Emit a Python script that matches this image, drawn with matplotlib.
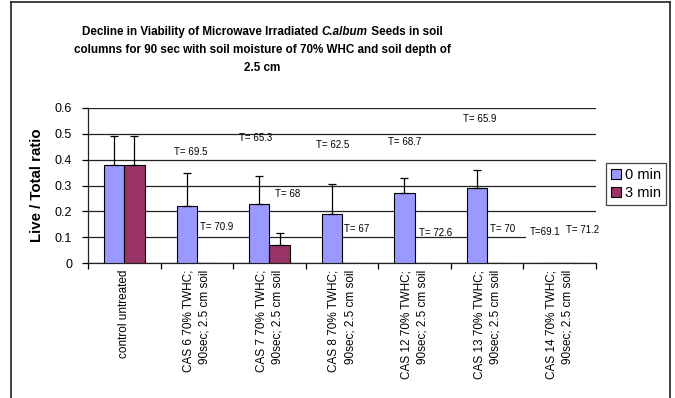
import numpy as np
import matplotlib
matplotlib.use("Agg")
import matplotlib.pyplot as plt
from matplotlib.lines import Line2D
from matplotlib.patches import Patch

plt.rcParams['font.family'] = ['Liberation Sans', 'DejaVu Sans']

categories = ["control untreated",
              "CAS 6 70% TWHC;\n90sec; 2.5 cm soil",
              "CAS 7 70% TWHC;\n90sec; 2.5 cm soil",
              "CAS 8 70% TWHC;\n90sec; 2.5 cm soil",
              "CAS 12 70% TWHC;\n90sec; 2.5 cm soil",
              "CAS 13 70% TWHC;\n90sec; 2.5 cm soil",
              "CAS 14 70% TWHC;\n90sec; 2.5 cm soil"]
series_names = ["0 min", "3 min"]
vals_0min = [0.38, 0.22, 0.23, 0.19, 0.27, 0.29, 0.0]
vals_3min = [0.38, 0.0, 0.07, 0.0, 0.0, 0.0, 0.0]
err_0min = [0.11, 0.13, 0.105, 0.115, 0.058, 0.069, 0.0]
err_3min = [0.11, 0.0, 0.047, 0.0, 0.0, 0.0, 0.0]
t_labels = ["T= 69.5", "T= 70.9", "T= 65.3", "T= 68", "T= 62.5", "T= 67",
            "T= 68.7", "T= 72.6", "T= 65.9", "T= 70", "T=69.1", "T= 71.2"]
yticks = [0, 0.1, 0.2, 0.3, 0.4, 0.5, 0.6]
ytick_labels = ["0", "0.1", "0.2", "0.3", "0.4", "0.5", "0.6"]

# annotation placement (data coords)
t_pos = [(0.919, 0.430), (1.278, 0.139), (1.815, 0.484), (2.256, 0.267),
         (2.876, 0.457), (3.200, 0.132), (3.868, 0.470), (4.295, 0.117),
         (4.895, 0.556), (5.218, 0.132), (5.804, 0.121), (6.321, 0.128)]
t_box = [False]*10 + [True, True]

c0 = '#9999FF'
c3 = '#993366'

fig = plt.figure(figsize=(6.75, 3.98), dpi=100)
ax = fig.add_axes([88/675, 1-263/398, (596-88)/675, (263-108)/398])

x = np.arange(len(categories))
w = 0.28
ax.bar(x - w/2, vals_0min, w, color=c0, edgecolor='black', linewidth=0.8, zorder=3)
ax.bar(x + w/2, vals_3min, w, color=c3, edgecolor='black', linewidth=0.8, zorder=3)

for xs, vs, es in ((x - w/2, vals_0min, err_0min), (x + w/2, vals_3min, err_3min)):
    m = np.array(es) > 0
    ax.errorbar(np.array(xs)[m], np.array(vs)[m],
                yerr=[np.zeros(m.sum()), np.array(es)[m]],
                fmt='none', ecolor='black', elinewidth=0.9, capsize=3,
                capthick=0.9, zorder=4)

ax.set_xlim(-0.5, len(categories) - 0.5)
ax.set_ylim(0, 0.6)
ax.set_yticks(yticks)
ax.set_yticklabels(ytick_labels, fontsize=9)
ax.yaxis.grid(True, color='#222222', linewidth=0.9, zorder=0)
ax.set_axisbelow(True)
for s in ('top', 'right'):
    ax.spines[s].set_visible(False)
for s in ('left', 'bottom'):
    ax.spines[s].set_linewidth(0.9)
    ax.spines[s].set_color('#222222')
ax.tick_params(axis='y', length=4, width=0.9, pad=7.5, colors='black')

ax.set_xticks(x)
ax.set_xticklabels(categories, rotation=90, fontsize=8.5, ma='right',
                   linespacing=1.45)
ax.set_xticks(np.arange(-0.5, len(categories)), minor=True)
ax.tick_params(axis='x', which='major', length=0, pad=5)
ax.tick_params(axis='x', which='minor', length=4, width=0.9)

for lab, (tx, ty), bx in zip(t_labels, t_pos, t_box):
    kw = {}
    if bx:
        kw['bbox'] = dict(facecolor='white', edgecolor='none', pad=3)
    ax.text(tx, ty, lab, ha='center', va='center', fontsize=7, zorder=5, **kw)

fig.text(37/675, 1-185/398, "Live / Total ratio", rotation=90, ha='center',
         va='center', fontsize=10.8, fontweight='bold')

# title with italic species name
fs_title = 8.4
W = fig.get_figwidth() * fig.dpi
cx = 262.5
lines = [
    [("Decline in Viability of Microwave Irradiated ", 'normal'), ("C.album", 'italic'),
     (" Seeds in soil", 'normal')],
    [("columns for 90 sec with soil moisture of 70% WHC and soil depth of", 'normal')],
    [("2.5 cm", 'normal')],
]
ys = [31.7, 50, 68]
fig.canvas.draw()
renderer = fig.canvas.get_renderer()
for parts, yp in zip(lines, ys):
    texts = []
    for s, st in parts:
        t = fig.text(0, 1 - yp/398, s, fontsize=fs_title, fontweight='bold',
                     style=st, ha='left', va='center')
        texts.append(t)
    widths = []
    for t, (s, st) in zip(texts, parts):
        tmp = fig.text(0, 0, s.replace(' ', '\u00a0'), fontsize=fs_title,
                       fontweight='bold', style=st)
        widths.append(tmp.get_window_extent(renderer).width)
        tmp.remove()
    total = sum(widths)
    xp = cx - total/2
    for t, wd in zip(texts, widths):
        t.set_x(xp / W)
        xp += wd

handles = [Patch(facecolor=c0, edgecolor='black', linewidth=0.8),
           Patch(facecolor=c3, edgecolor='black', linewidth=0.8)]
leg = fig.legend(handles, series_names, loc='upper left',
                 bbox_to_anchor=(606/675, 1-163/398), fontsize=10.5,
                 fancybox=False, edgecolor='#444444', framealpha=1,
                 handlelength=0.65, handleheight=0.65, handletextpad=0.3,
                 borderpad=0.35, labelspacing=0.28, borderaxespad=0)
leg.get_frame().set_linewidth(0.9)

# outer chart frame
fx0, fx1, fy1 = 11/675, 670/675, 1 - 1.5/398
for xs_, ys_ in (([fx0, fx0], [0, fy1]), ([fx1, fx1], [0, fy1]), ([fx0, fx1], [fy1, fy1])):
    fig.add_artist(Line2D(xs_, ys_, color='#222222', linewidth=1.2,
                          transform=fig.transFigure))

fig.savefig("out.png", dpi=100)
